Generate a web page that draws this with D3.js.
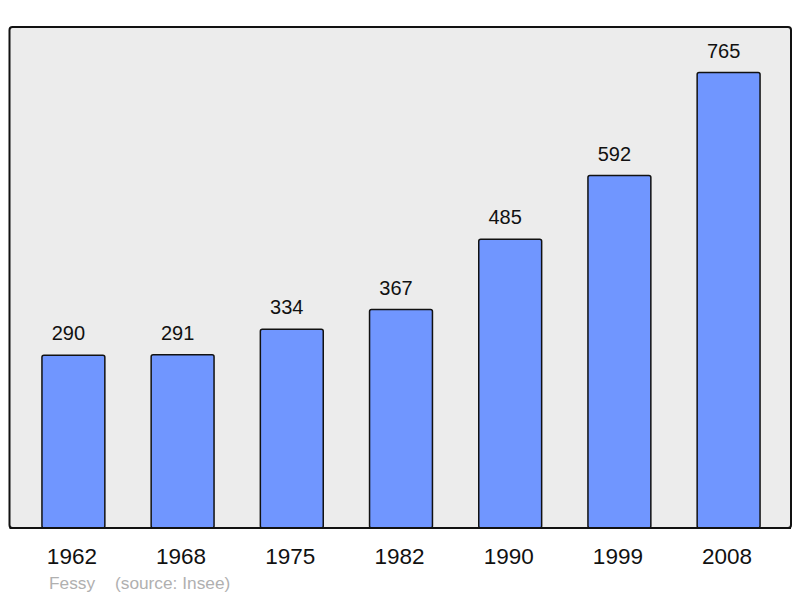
<!DOCTYPE html>
<html><head><meta charset="utf-8">
<script src="https://cdn.jsdelivr.net/npm/d3@7"></script>
<style>body{margin:0;background:#fff}svg{display:block}</style>
</head><body>
<script>
const years = ["1962","1968","1975","1982","1990","1999","2008"];
const population = [290,291,334,367,485,592,765];
const commune = "Fessy";
const source = "(source: Insee)";

const W = 800, H = 598;
const svg = d3.select("body").append("svg").attr("width", W).attr("height", H);
const frame = {x0: 9.5, x1: 791, y0: 27, y1: 528};

svg.append("rect").attr("x", frame.x0).attr("y", frame.y0)
  .attr("width", frame.x1 - frame.x0).attr("height", frame.y1 - frame.y0)
  .attr("rx", 3).attr("fill", "#ececec").attr("stroke", "#111").attr("stroke-width", 2);

const x = d3.scaleBand().domain(years).range([10.5, 791.5]).paddingInner(0.424).paddingOuter(0.288);
const y = d3.scaleLinear().domain([0, d3.max(population) * 1.1]).range([frame.y1, frame.y0]);

const data = years.map((yr, i) => ({yr, v: population[i]}));

svg.selectAll("rect.bar").data(data).enter().append("rect").attr("class", "bar")
  .attr("x", d => x(d.yr)).attr("y", d => y(d.v))
  .attr("width", x.bandwidth()).attr("height", d => frame.y1 - y(d.v))
  .attr("rx", 2).attr("fill", "#7096ff").attr("stroke", "#111").attr("stroke-width", 1.5);

svg.append("line").attr("x1", frame.x0).attr("x2", frame.x1).attr("y1", frame.y1).attr("y2", frame.y1)
  .attr("stroke", "#111").attr("stroke-width", 2);

svg.selectAll("text.val").data(data).enter().append("text").attr("class", "val")
  .attr("x", d => x(d.yr) + x.bandwidth() / 2 - 5).attr("y", d => y(d.v) - 15)
  .attr("text-anchor", "middle").attr("font-family", "Liberation Sans, Arial, sans-serif")
  .attr("font-size", 20).attr("fill", "#111").text(d => d.v);

const xAxis = d3.axisBottom(x).tickSize(0).tickPadding(0);
const gx = svg.append("g").attr("transform", `translate(-1.5,${frame.y1})`).call(xAxis);
gx.select(".domain").remove();
gx.selectAll("text").attr("font-family", "Liberation Sans, Arial, sans-serif")
  .attr("font-size", 22.5).attr("fill", "#111").attr("dy", null).attr("y", 36);

svg.append("text").attr("x", 49).attr("y", 589).attr("font-family", "Liberation Sans, Arial, sans-serif")
  .attr("font-size", 17.3).attr("fill", "#b0b0b0").text(commune);
svg.append("text").attr("x", 115).attr("y", 589).attr("font-family", "Liberation Sans, Arial, sans-serif")
  .attr("font-size", 17.3).attr("fill", "#b0b0b0").text(source);
</script>
</body></html>
